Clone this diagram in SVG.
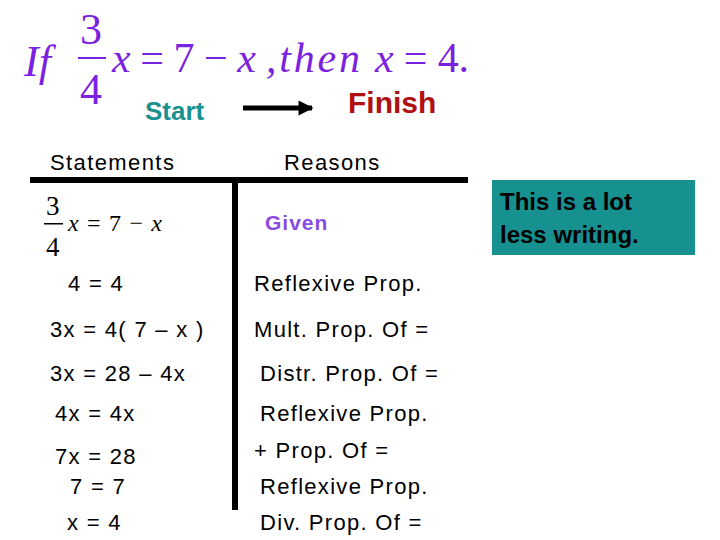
<svg xmlns="http://www.w3.org/2000/svg" width="720" height="540" viewBox="0 0 720 540">
<style>
.m{font-family:"Liberation Serif",serif;fill:#7a22e0}
.s{font-family:"Liberation Serif",serif;fill:#000}
.a{font-family:"Liberation Sans",Arial,sans-serif;font-size:22px;letter-spacing:1.4px;fill:#000}
.r{font-family:"Liberation Sans",Arial,sans-serif;font-size:22px;letter-spacing:1.3px;fill:#000}
</style>
<defs><marker id="ah" viewBox="0 0 10 10" refX="9" refY="5" markerWidth="3.5" markerHeight="3" orient="auto" markerUnits="strokeWidth"><path d="M0,0L10,5L0,10z" fill="#000"/></marker></defs>
<rect width="720" height="540" fill="#fff"/>
<g id="title">
<text class="m" x="24" y="76" font-size="44" font-style="italic">If</text>
<text class="m" x="80" y="44" font-size="44">3</text>
<rect x="78" y="57" width="28" height="2" fill="#7a22e0"/>
<text class="m" x="80" y="104" font-size="44">4</text>
<text class="m" x="112" y="72" font-size="42" textLength="144" lengthAdjust="spacing"><tspan font-style="italic">x</tspan> = 7 − <tspan font-style="italic">x</tspan></text>
<text class="m" x="266" y="72" font-size="42" font-style="italic" textLength="94" lengthAdjust="spacing">,then</text>
<text class="m" x="375" y="72" font-size="42" textLength="94" lengthAdjust="spacing"><tspan font-style="italic">x</tspan> = 4.</text>
</g>
<g id="start"><text x="145" y="120" font-family="Liberation Sans,Arial,sans-serif" font-weight="bold" font-size="26" fill="#1a9090">Start</text></g>
<g id="finish"><text x="348" y="113" font-family="Liberation Sans,Arial,sans-serif" font-weight="bold" font-size="30" fill="#b01010">Finish</text></g>
<g id="connectors">
<line x1="243" y1="108" x2="312" y2="108" stroke="#000" stroke-width="5" marker-end="url(#ah)"/>
</g>
<g id="table">
<text class="a" x="50" y="170">Statements</text>
<text class="a" x="284" y="170">Reasons</text>
<rect x="30" y="177" width="438" height="6" fill="#000"/>
<rect x="232" y="180" width="6" height="330" fill="#000"/>
<text class="s" x="46" y="215" font-size="27">3</text>
<rect x="44" y="223" width="19" height="1.5" fill="#000"/>
<text class="s" x="46" y="256" font-size="27">4</text>
<text class="s" x="68" y="231" font-size="24" textLength="94" lengthAdjust="spacing"><tspan font-style="italic">x</tspan> = 7 − <tspan font-style="italic">x</tspan></text>
<text x="265" y="230" font-family="Liberation Sans,Arial,sans-serif" font-weight="bold" font-size="21" letter-spacing="1" fill="#8a4ce0">Given</text>
<text class="r" x="68" y="291">4 = 4</text>
<text class="r" x="254" y="291">Reflexive Prop.</text>
<text class="r" x="50" y="337">3x = 4( 7 – x )</text>
<text class="r" x="254" y="337">Mult. Prop. Of =</text>
<text class="r" x="50" y="381">3x = 28 – 4x</text>
<text class="r" x="260" y="381">Distr. Prop. Of =</text>
<text class="r" x="55" y="421">4x = 4x</text>
<text class="r" x="260" y="421">Reflexive Prop.</text>
<text class="r" x="254" y="458">+ Prop. Of =</text>
<text class="r" x="55" y="464">7x = 28</text>
<text class="r" x="70" y="494">7 = 7</text>
<text class="r" x="260" y="494">Reflexive Prop.</text>
<text class="r" x="67" y="530">x = 4</text>
<text class="r" x="260" y="530">Div. Prop. Of =</text>
</g>
<g id="note">
<rect x="492" y="180" width="203" height="75" fill="#179090"/>
<text x="500" y="210" font-family="Liberation Sans,Arial,sans-serif" font-weight="bold" font-size="24" fill="#000">This is a lot</text>
<text x="500" y="243" font-family="Liberation Sans,Arial,sans-serif" font-weight="bold" font-size="24" fill="#000">less writing.</text>
</g>
</svg>
